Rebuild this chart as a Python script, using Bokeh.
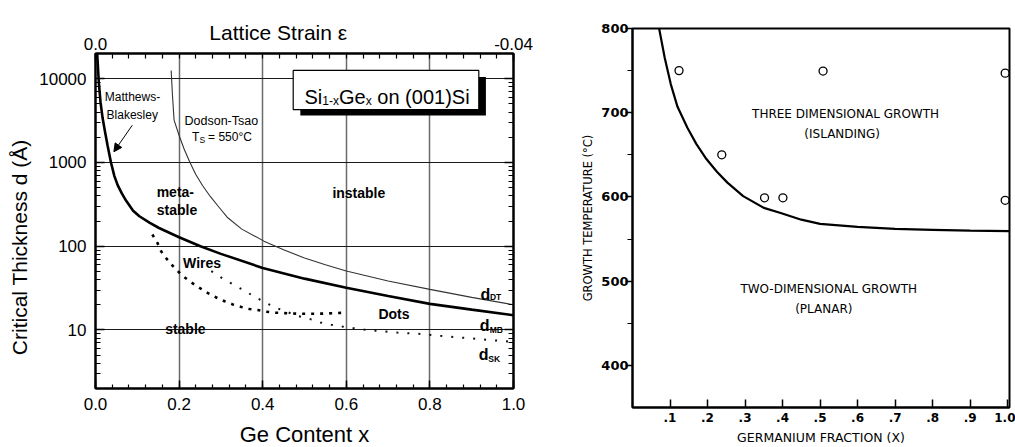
from bokeh.plotting import figure
from bokeh.layouts import row
from bokeh.models import (LinearAxis, LogAxis, Range1d, FixedTicker, PrintfTickFormatter,
                          Label, Arrow, NormalHead)
from bokeh.embed import file_html
from bokeh.resources import INLINE

# ---------------- critical thickness of Si(1-x)Ge(x) on (001)Si ----------------
# Matthews-Blakesley critical thickness (Angstrom) vs Ge content
mb_x = [0.004, 0.008, 0.012, 0.017, 0.023, 0.029, 0.037, 0.045, 0.053, 0.063, 0.073, 0.09,
        0.105, 0.13, 0.152, 0.20, 0.251, 0.30, 0.40, 0.50, 0.60, 0.70, 0.80, 0.90, 1.00]
mb_d = [20000, 8900, 5250, 3390, 2290, 1585, 1000, 692, 537, 427, 351, 265,
        228, 190, 165, 128, 100, 81, 55, 41, 32, 25.5, 20.5, 17.5, 15]

# Dodson-Tsao critical thickness, Ts = 550 C
dt_x = [0.181, 0.184, 0.188, 0.20, 0.212, 0.226, 0.24, 0.256, 0.275, 0.296, 0.315, 0.35,
        0.403, 0.45, 0.50, 0.55, 0.60, 0.70, 0.80, 0.90, 1.00]
dt_d = [12500, 6500, 3200, 2100, 1450, 1000, 720, 530, 390, 290, 222, 160,
        115, 90.5, 72.4, 60, 50.7, 38.5, 30.5, 24.5, 20]

# lower bound of the wire regime
wire_x = [0.136, 0.148, 0.157, 0.171, 0.189, 0.209, 0.229, 0.250, 0.269, 0.289, 0.309,
          0.328, 0.349, 0.368, 0.388, 0.408, 0.43, 0.46, 0.49, 0.52, 0.55, 0.59]
wire_d = [138, 110, 87, 70, 55, 44, 37, 31.5, 27.5, 24.4, 22,
          20.2, 18.8, 17.8, 17.3, 16.5, 16.1, 15.8, 15.6, 15.6, 15.7, 16.0]

# Stranski-Krastanov thickness
sk_x = [0.277, 0.303, 0.329, 0.357, 0.383, 0.409, 0.434, 0.460, 0.486, 0.513, 0.538, 0.565,
        0.590, 0.617, 0.642, 0.67, 0.722, 0.773, 0.825, 0.877, 0.929, 0.957, 1.0]
sk_d = [50.5, 41.5, 35, 29.3, 24.5, 20.9, 18.2, 16.3, 14.6, 13.5, 12.3, 11.5,
        11.0, 10.5, 10.1, 9.8, 9.3, 9.0, 8.5, 8.1, 7.7, 7.5, 7.2]

ge_ticks = [0.0, 0.2, 0.4, 0.6, 0.8, 1.0]
ge_minor = [round(i * 0.04, 2) for i in range(26)]
d_ticks = [10, 100, 1000, 10000]
d_minor = [m * 10 ** e for e in range(0, 5) for m in range(2, 10) if m * 10 ** e <= 20000]
strain_labels = {0: "0.0", 1: "-0.04"}

# ---------------- growth mode map ----------------
ge_frac = [0.071, 0.086, 0.102, 0.12, 0.146, 0.17, 0.197, 0.225, 0.253, 0.295, 0.35, 0.395,
           0.45, 0.5, 0.6, 0.7, 0.8, 0.9, 1.005]
t_boundary = [800, 765, 734, 707, 682.5, 663, 645, 630, 617, 601, 587, 581,
              573, 568, 564.5, 562, 561, 560, 559.5]
obs_x = [0.124, 0.238, 0.352, 0.401, 0.508, 0.9935, 0.9935]
obs_t = [750, 650, 599, 599, 749.5, 747, 596]

frac_ticks = [0.1, 0.2, 0.3, 0.4, 0.5, 0.6, 0.7, 0.8, 0.9, 1.0]
frac_labels = [".1", ".2", ".3", ".4", ".5", ".6", ".7", ".8", ".9", "1.0"]
t_ticks = [400, 500, 600, 700, 800]
t_minor = [450, 550, 650, 750]

SANS = "Liberation Sans"
MAP = "DejaVu Sans"
NBSP = "\u00a0"


def put(fig, x, y, text, size, dx=0, dy=0, style="normal", font=SANS,
        align="left", baseline="alphabetic", color="black"):
    fig.add_layout(Label(x=x, y=y, text=text, x_offset=dx, y_offset=dy,
                         text_font=font, text_font_size=f"{size}px",
                         text_font_style=style, text_align=align,
                         text_baseline=baseline, text_color=color))


def style_axis(ax, size, font, tick_in, tick_out, minor_in, minor_out, standoff):
    ax.axis_line_color = "black"
    ax.axis_line_width = 2
    ax.major_tick_line_color = "black"
    ax.major_tick_line_width = 1.5
    ax.minor_tick_line_color = "black"
    ax.minor_tick_line_width = 1.2
    ax.major_tick_in = tick_in
    ax.major_tick_out = tick_out
    ax.minor_tick_in = minor_in
    ax.minor_tick_out = minor_out
    ax.major_label_text_font = font
    ax.major_label_text_font_size = f"{size}px"
    ax.major_label_text_color = "black"
    ax.major_label_standoff = standoff


def style_label(ax, text, font, size, standoff):
    ax.axis_label = text
    ax.axis_label_text_font = font
    ax.axis_label_text_font_size = f"{size}px"
    ax.axis_label_text_font_style = "normal"
    ax.axis_label_text_color = "black"
    ax.axis_label_standoff = standoff


# ======================= left panel =======================
p1 = figure(frame_width=418, frame_height=335, min_border_left=95, min_border_right=47,
            min_border_top=53, min_border_bottom=59, x_range=Range1d(0, 1),
            y_range=Range1d(2, 20000), y_axis_type="log", title=None,
            output_backend="svg", toolbar_location=None)
p1.frame_align = False
p1.outline_line_color = "black"
p1.outline_line_width = 2

bx = p1.xaxis[0]
bx.ticker = FixedTicker(ticks=ge_ticks, minor_ticks=ge_minor)
bx.formatter = PrintfTickFormatter(format="%.1f")
style_axis(bx, 17, SANS, 8, 0, 4, 0, 9)
style_label(bx, "Ge Content x", SANS, 22, 9)

ly = p1.yaxis[0]
ly.ticker = FixedTicker(ticks=d_ticks, minor_ticks=d_minor)
ly.formatter = PrintfTickFormatter(format="%d")
style_axis(ly, 17, SANS, 9, 0, 5, 0, 9)
# trailing no-break spaces move the title towards the lower end of the axis
style_label(ly, "Critical Thickness d (Å)" + NBSP * 9, SANS, 21, 5)

tx = LinearAxis(ticker=FixedTicker(ticks=[0, 1], minor_ticks=ge_minor),
                major_label_overrides=strain_labels)
style_axis(tx, 17, SANS, 8, 0, 5, 0, 4)
# strain scale title sits left of centre, close to the tick labels
style_label(tx, "Lattice Strain ε" + NBSP * 9, SANS, 21, -9)
p1.add_layout(tx, "above")

ry = LogAxis(ticker=FixedTicker(ticks=d_ticks, minor_ticks=d_minor),
             major_label_overrides={t: "" for t in d_ticks})
style_axis(ry, 17, SANS, 9, 0, 5, 0, 4)
p1.add_layout(ry, "right")

p1.xgrid.ticker = FixedTicker(ticks=[0.2, 0.4, 0.6, 0.8])
p1.xgrid.grid_line_color = "#6a6a6a"
p1.xgrid.grid_line_width = 1.5
p1.ygrid.ticker = FixedTicker(ticks=d_ticks)
p1.ygrid.grid_line_color = "#1a1a1a"
p1.ygrid.grid_line_width = 1

p1.line(dt_x, dt_d, line_color="#333333", line_width=1.1)
p1.line(mb_x, mb_d, line_color="black", line_width=2.6)
p1.line(wire_x, wire_d, line_color="black", line_width=2.6, line_dash="3 6",
        line_cap="butt")
p1.line(sk_x, sk_d, line_color="#111111", line_width=2, line_dash="2 9",
        line_cap="butt")

# framed caption with drop shadow
p1.quad(left=[0.49], right=[0.934], top=[10447], bottom=[3638],
        fill_color="black", line_color=None)
p1.quad(left=[0.473], right=[0.917], top=[12545], bottom=[4285],
        fill_color="white", line_color="black", line_width=1.2)
cx, cy = 0.5, 6046
put(p1, cx, cy, "Si", 20)
put(p1, cx, cy, "1-x", 12, dx=17.8, dy=-4)
put(p1, cx, cy, "Ge", 20, dx=34.5)
put(p1, cx, cy, "x", 12, dx=61.2, dy=-4)
put(p1, cx, cy, "on (001)Si", 20, dx=72.8)

# curve names
put(p1, 0.0885, 6040, "Matthews-", 12, align="center")
put(p1, 0.088, 3663, "Blakesley", 12, align="center")
p1.add_layout(Arrow(end=NormalHead(size=8, fill_color="black", line_color="black"),
                    x_start=0.088, y_start=2785, x_end=0.044, y_end=1343,
                    line_color="black", line_width=1))
put(p1, 0.301, 3112, "Dodson-Tsao", 12.5, align="center")
put(p1, 0.231, 1991, "T", 12)
put(p1, 0.231, 1991, "S", 8.5, dx=7.4, dy=-3)
put(p1, 0.231, 1991, "= 550°C", 12, dx=16)

# regions
put(p1, 0.191, 450, "meta-", 14, style="bold", align="center", baseline="middle")
put(p1, 0.195, 268, "stable", 14, style="bold", align="center", baseline="middle")
put(p1, 0.63, 437, "instable", 14, style="bold", align="center", baseline="middle")
put(p1, 0.255, 63.5, "Wires", 14, style="bold", align="center", baseline="middle")
put(p1, 0.714, 15.5, "Dots", 14, style="bold", align="center", baseline="middle")
put(p1, 0.215, 10.2, "stable", 14, style="bold", align="center", baseline="middle")

# thickness labels
for lx, ly_, sub, sdx, sdy in [(0.921, 26.7, "DT", 9.5, -3),
                               (0.919, 11.4, "MB", 10, -5),
                               (0.917, 5.07, "SK", 9.4, -4.5)]:
    put(p1, lx, ly_, "d", 16, style="bold")
    put(p1, lx, ly_, sub, 8.5, dx=sdx, dy=sdy, style="bold")

# ======================= right panel =======================
p2 = figure(frame_width=377, frame_height=379, min_border_left=72, min_border_right=6,
            min_border_top=28, min_border_bottom=40, x_range=Range1d(0, 1.005),
            y_range=Range1d(350, 800), title=None,
            output_backend="svg", toolbar_location=None)
p2.frame_align = False
p2.outline_line_color = "black"
p2.outline_line_width = 2
p2.grid.visible = False

rx = p2.xaxis[0]
rx.ticker = FixedTicker(ticks=frac_ticks, minor_ticks=[])
rx.major_label_overrides = dict(zip(frac_ticks, frac_labels))
style_axis(rx, 12, MAP, 8, 0, 0, 0, 5)
rx.major_label_text_font_style = "bold"
style_label(rx, "GERMANIUM FRACTION (X)", MAP, 12.5, 5)

tyax = p2.yaxis[0]
tyax.ticker = FixedTicker(ticks=t_ticks, minor_ticks=t_minor)
style_axis(tyax, 13, MAP, 0, 7, 0, 5, -3)
tyax.major_label_text_font_style = "bold"
style_label(tyax, "GROWTH TEMPERATURE (°C)", MAP, 11.5, 3)

p2.line(ge_frac, t_boundary, line_color="black", line_width=2.2)
p2.scatter(obs_x, obs_t, marker="circle", size=8, fill_color=None,
           line_color="black", line_width=1.3)

put(p2, 0.568, 698, "THREE DIMENSIONAL GROWTH", 12, font=MAP, align="center", baseline="middle")
put(p2, 0.559, 675, "(ISLANDING)", 12, font=MAP, align="center", baseline="middle")
put(p2, 0.523, 490.5, "TWO-DIMENSIONAL GROWTH", 12, font=MAP, align="center", baseline="middle")
put(p2, 0.51, 466.7, "(PLANAR)", 12, font=MAP, align="center", baseline="middle")

layout = row(p1, p2)
open("out.html", "w").write(file_html(layout, INLINE))
